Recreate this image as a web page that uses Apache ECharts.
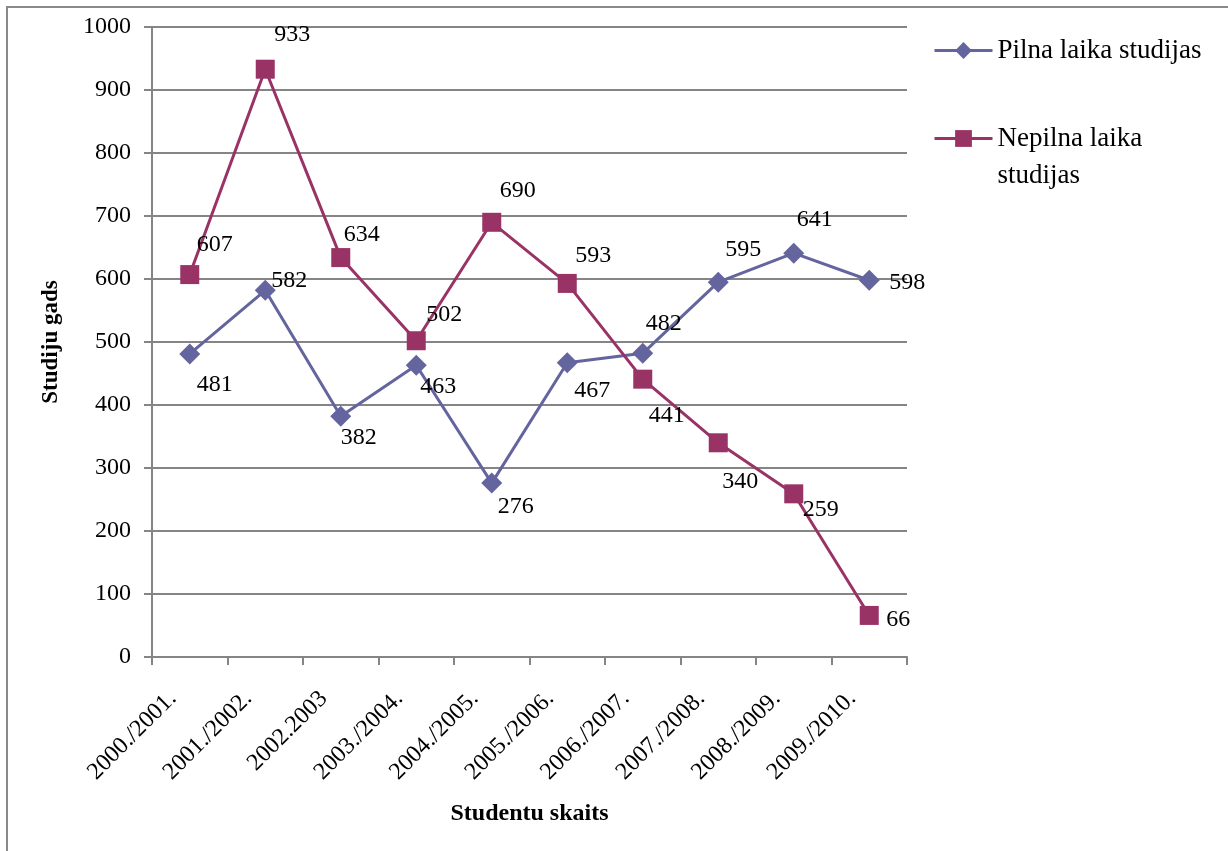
<!DOCTYPE html>
<html>
<head>
<meta charset="utf-8">
<script src="https://cdn.jsdelivr.net/npm/echarts@6/dist/echarts.min.js"></script>
<style>
  html, body { margin: 0; padding: 0; background: #fff; }
  #chart { width: 1228px; height: 851px; }
</style>
</head>
<body>
<div id="chart"></div>
<script>
  // studiju gadi
  const categories = ['2000./2001.', '2001./2002.', '2002.2003', '2003./2004.', '2004./2005.',
    '2005./2006.', '2006./2007.', '2007./2008.', '2008./2009.', '2009./2010.'];
  const pilna = [481, 582, 382, 463, 276, 467, 482, 595, 641, 598];
  const nepilna = [607, 933, 634, 502, 690, 593, 441, 340, 259, 66];
  const yTicks = { min: 0, max: 1000, step: 100 };

  // where each value label sits, relative to its marker
  const pilnaLabelOffset = [[25, 31], [24, -10], [18, 21], [22, 21], [24, 24],
    [25, 28], [21, -30], [25, -32], [21, -33], [38, 2]];
  const nepilnaLabelOffset = [[25, -30], [27, -35], [21, -23], [28, -26], [26, -32],
    [26, -28], [24, 37], [22, 39], [27, 16], [29, 4]];

  const font = '"Liberation Serif", "Times New Roman", serif';
  const gray = '#858585';

  function withLabels(values, offsets) {
    return values.map((v, i) => ({
      value: v,
      label: { offset: offsets[i] },
    }));
  }

  const chart = echarts.init(document.getElementById('chart'));
  chart.setOption({
    animation: false,
    backgroundColor: '#ffffff',
    textStyle: { fontFamily: font, color: '#000' },
    graphic: [{
      type: 'rect',
      shape: { x: 7, y: 7, width: 1240, height: 900 },
      style: { fill: 'none', stroke: '#8a8a8a', lineWidth: 2 },
      silent: true,
    }],
    grid: { left: 152, right: 321, top: 27, bottom: 194 },
    legend: {
      orient: 'vertical',
      left: 928,
      top: 27,
      itemWidth: 58,
      itemHeight: 21,
      itemGap: 14,
      lineStyle: { width: 3 },
      textStyle: { fontFamily: font, fontSize: 27, color: '#000', lineHeight: 37 },
      formatter: (name) => name === 'Nepilna laika studijas' ? ' \nNepilna laika\nstudijas' : name,
      data: ['Pilna laika studijas', 'Nepilna laika studijas'],
    },
    xAxis: {
      type: 'category',
      data: categories,
      boundaryGap: true,
      name: 'Studentu skaits',
      nameLocation: 'middle',
      nameGap: 145,
      nameTextStyle: { fontFamily: font, fontSize: 24, fontWeight: 'bold', color: '#000' },
      axisLine: { lineStyle: { color: gray, width: 2 } },
      axisTick: { show: true, length: 8, lineStyle: { color: gray, width: 2 } },
      axisLabel: {
        rotate: 45, margin: 21, padding: [0, 24, 0, 0],
        fontFamily: font, fontSize: 24, color: '#000',
      },
      splitLine: { show: false },
    },
    yAxis: {
      type: 'value',
      min: yTicks.min,
      max: yTicks.max,
      interval: yTicks.step,
      name: 'Studiju gads',
      nameLocation: 'middle',
      nameGap: 89,
      nameRotate: 90,
      nameTextStyle: { fontFamily: font, fontSize: 23, fontWeight: 'bold', color: '#000' },
      axisLine: { show: true, lineStyle: { color: gray, width: 2 } },
      axisTick: { show: true, length: 8, lineStyle: { color: gray, width: 2 } },
      axisLabel: {
        margin: 21, fontFamily: font, fontSize: 24, color: '#000',
        formatter: (v) => String(v),
      },
      splitLine: { show: true, lineStyle: { color: gray, width: 2 } },
    },
    series: [
      {
        name: 'Pilna laika studijas',
        type: 'line',
        data: withLabels(pilna, pilnaLabelOffset),
        symbol: 'diamond',
        symbolSize: 21,
        color: '#64649e',
        lineStyle: { width: 3 },
        label: { show: true, position: 'inside', color: '#000', fontFamily: font, fontSize: 24 },
      },
      {
        name: 'Nepilna laika studijas',
        type: 'line',
        data: withLabels(nepilna, nepilnaLabelOffset),
        symbol: 'rect',
        symbolSize: 19,
        color: '#993366',
        lineStyle: { width: 3 },
        label: { show: true, position: 'inside', color: '#000', fontFamily: font, fontSize: 24 },
      },
    ],
  });
</script>
</body>
</html>
